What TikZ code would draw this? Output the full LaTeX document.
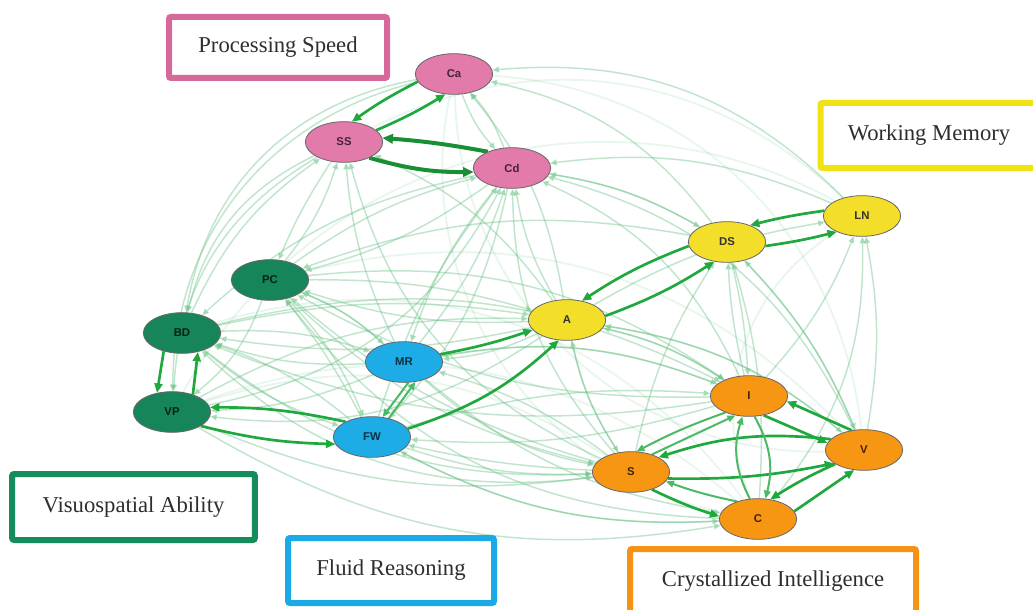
\documentclass[tikz,border=0pt]{standalone}
\usepackage{fontspec}
\setmainfont{Liberation Serif}
\setsansfont{Liberation Sans}
\usetikzlibrary{arrows.meta,shapes.geometric}
\pgfdeclarelayer{back}
\pgfdeclarelayer{bg}
\pgfdeclarelayer{mid}
\pgfsetlayers{back,bg,mid,main}
\definecolor{pinkF}{RGB}{226,122,170}
\definecolor{yelF}{RGB}{243,222,42}
\definecolor{dgF}{RGB}{22,134,90}
\definecolor{blF}{RGB}{30,172,230}
\definecolor{orF}{RGB}{247,150,18}
\definecolor{pinkB}{RGB}{214,104,154}
\definecolor{yelB}{RGB}{240,226,20}
\definecolor{grB}{RGB}{20,140,92}
\definecolor{blB}{RGB}{26,170,230}
\definecolor{orB}{RGB}{246,146,20}
\definecolor{strongG}{RGB}{30,168,62}
\definecolor{faintG}{RGB}{100,192,128}
\begin{document}
\begin{tikzpicture}[x=0.75pt,y=-0.75pt,
  v/.style={ellipse, draw=black!60, line width=0.6pt, minimum width=58pt, minimum height=30.5pt, inner sep=0pt,
    font=\sffamily\bfseries\fontsize{8.5}{9}\selectfont},
  lbl/.style={draw, line width=4.5pt, rounded corners=1.5pt, fill=white, inner sep=0pt,
    font=\fontsize{17}{20}\selectfont, text=black!82},
  strong/.style={draw=strongG, line width=2pt, -{Triangle[length=7pt,width=6pt]}},
  heavy/.style={draw=strongG!85!black, line width=3pt, -{Triangle[length=8pt,width=7pt]}},
  medium/.style={draw=strongG!80!white, line width=1.5pt, -{Triangle[length=6pt,width=5pt]}},
  faint/.style={draw=faintG, draw opacity=0.4, fill opacity=0.4, line width=1.1pt, -{Triangle[length=5pt,width=4.5pt]}},
  vfaint/.style={draw=faintG, draw opacity=0.14, line width=1.4pt},
]
\useasboundingbox (0,0) rectangle (1033,610);
\begin{pgfonlayer}{back}
\fill[white] (0,0) rectangle (1033,610);
\end{pgfonlayer}

% vertices
\node[v, fill=pinkF, text=black!70!pinkF] (Ca) at (454,74) {Ca};
\node[v, fill=pinkF, text=black!70!pinkF] (SS) at (344,142) {SS};
\node[v, fill=pinkF, text=black!70!pinkF] (Cd) at (512,168) {Cd};
\node[v, fill=yelF, text=black!80] (DS) at (727,242) {DS};
\node[v, fill=yelF, text=black!80] (LN) at (862,216) {LN};
\node[v, fill=yelF, text=black!80] (A) at (567,320) {A};
\node[v, fill=dgF, text=black!75!dgF] (PC) at (270,280) {PC};
\node[v, fill=dgF, text=black!75!dgF] (BD) at (182,333) {BD};
\node[v, fill=dgF, text=black!75!dgF] (VP) at (172,412) {VP};
\node[v, fill=blF, text=black!70!blF] (MR) at (404,362) {MR};
\node[v, fill=blF, text=black!70!blF] (FW) at (372,437) {FW};
\node[v, fill=orF, text=black!75!orF] (I) at (749,396) {I};
\node[v, fill=orF, text=black!75!orF] (V) at (864,450) {V};
\node[v, fill=orF, text=black!75!orF] (S) at (631,472) {S};
\node[v, fill=orF, text=black!75!orF] (C) at (758,519) {C};

% faint edges
\begin{pgfonlayer}{bg}
\foreach \a/\b/\c in {
  SS/BD/-25, Ca/BD/-35, Ca/VP/-38, SS/VP/-28, Cd/PC/10, SS/PC/-5, PC/SS/-10, BD/SS/15,
  Cd/BD/-15, MR/SS/10, A/SS/-15, Cd/MR/-10, Cd/FW/15, DS/Ca/-20, LN/Ca/-25, LN/Cd/-15,
  DS/Cd/-10, A/Cd/10, A/Ca/-15, I/Cd/-20, V/DS/-10, I/DS/5, C/LN/-20, V/LN/-10,
  S/DS/10, A/LN/10, A/V/15, DS/V/10, PC/A/8, BD/A/10, VP/A/15, S/A/10, I/A/-10, V/A/-15,
  BD/MR/10, PC/MR/10, A/MR/10, S/MR/-10, I/MR/-15, BD/FW/-10, PC/FW/10, S/FW/5, I/FW/10,
  C/FW/15, A/I/10, MR/I/15, BD/I/20, FW/I/10, PC/I/20, DS/I/5, FW/S/-10, MR/S/-15,
  A/S/-10, VP/S/-15, BD/S/-20, PC/S/-15, FW/C/-15, VP/C/-20, MR/C/-15, I/BD/15,
  S/BD/25, FW/BD/-10, MR/BD/10, A/BD/10, MR/PC/-10, FW/PC/-5, A/PC/10, DS/PC/-15,
  I/PC/15, MR/VP/10, PC/VP/15, A/VP/20, FW/Cd/10, MR/Cd/-10, PC/Cd/10, VP/Cd/-25,
  I/LN/-10, Cd/DS/10, Cd/Ca/-10, Ca/Cd/-10, C/DS/-10, S/Cd/20, S/SS/25, V/Cd/-25,
  C/PC/25, S/PC/12}
  {\draw[faint] (\a) to[bend left=\c] (\b);}
\foreach \a/\b/\c in {
  LN/C/-40, V/Ca/-40, LN/SS/-35, C/VP/-30, S/VP/-25, V/PC/-30, C/BD/-35, LN/VP/-45,
  Ca/V/-45, C/Ca/45}
  {\draw[vfaint] (\a) to[bend left=\c] (\b);}
\end{pgfonlayer}

% strong edges
\begin{pgfonlayer}{mid}
\draw[strong] (Ca.192) to[bend right=4] (SS.69);
\draw[strong] (SS.20) to[bend right=4] (Ca.247);
\draw[heavy] (Cd.146) to[bend right=3] (SS.6);
\draw[heavy] (SS.-32) to[bend right=8] (Cd.186);
\draw[strong] (LN.172) to[bend right=3] (DS.36);
\draw[strong] (DS.-6) to[bend right=3] (LN.212);
\draw[strong] (DS.186) to[bend right=6] (A.52);
\draw[strong] (A.6) to[bend right=6] (DS.237);
\draw[strong] (MR.12) to[bend right=4] (A.196);
\draw[strong] (FW.13) to[bend right=12] (A.248);
\draw[strong] (BD.225) -- (VP.128);
\draw[strong] (VP.40) -- (BD.-50);
\draw[strong] (FW.150) to[bend right=6] (VP.7);
\draw[strong] (VP.-26) to[bend right=6] (FW.191);
\draw[medium] (MR.282) -- (FW.62);
\draw[medium] (FW.48) -- (MR.300);
\draw[strong] (V.122) -- (I.-8);
\draw[strong] (I.-53) -- (V.169);
\draw[strong] (V.162) to[bend right=12] (S.28);
\draw[strong] (S.-10) to[bend right=6] (V.204);
\draw[medium] (C.140) to[bend left=4] (S.-15);
\draw[strong] (S.-40) to[bend right=4] (C.176);
\draw[strong] (C.12) -- (V.244);
\draw[strong] (V.206) to[bend right=4] (C.58);
\draw[medium] (I.215) to[bend right=4] (S.75);
\draw[medium] (C.112) to[bend left=22] (I.252);
\draw[medium] (I.-75) to[bend left=22] (C.70);
\draw[medium] (S.40) -- (I.235);
\end{pgfonlayer}

% group labels
\node[lbl, draw=pinkB, minimum width=163.5pt, minimum height=45.75pt] (psp) at (278,47.5) {Processing Speed};
\node[lbl, draw=yelB, minimum width=162.75pt, minimum height=48.75pt] (wm) at (929,135.5) {Working Memory};
\node[lbl, draw=grB, minimum width=182pt, minimum height=49.5pt] (vsa) at (133.5,507) {Visuospatial Ability};
\node[lbl, draw=blB, minimum width=154.5pt, minimum height=48.75pt] (flr) at (391,570.5) {Fluid Reasoning};
\node[lbl, draw=orB, minimum width=214.5pt, minimum height=48.75pt] (cri) at (773,581.5) {Crystallized Intelligence};
\end{tikzpicture}
\end{document}
